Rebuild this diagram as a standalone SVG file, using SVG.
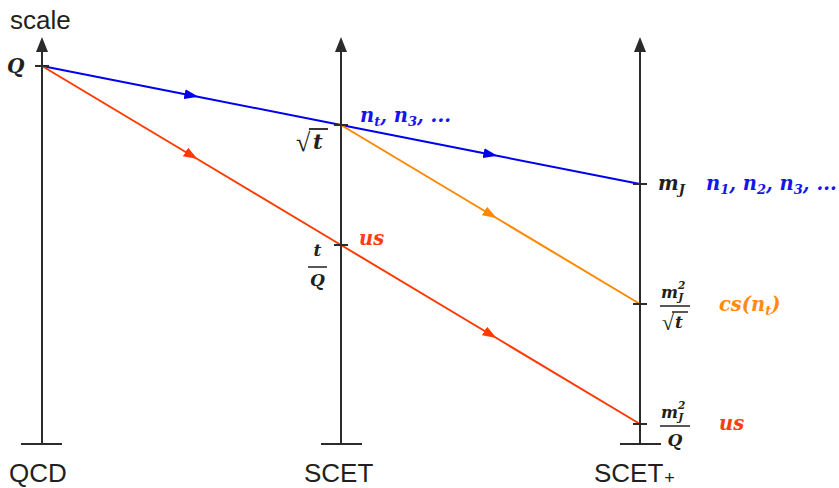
<svg xmlns="http://www.w3.org/2000/svg" width="839" height="488" viewBox="0 0 839 488">
<style>
.ax{stroke:#2b2b2b;stroke-width:2;fill:none}
.lbl{font-family:"Liberation Sans",Arial,sans-serif;font-size:26px;fill:#231f20}
.m{font-family:"DejaVu Serif","Liberation Serif",serif;font-style:italic;font-weight:bold;fill:#231f20}
.rad{font-family:"Liberation Serif","DejaVu Serif",serif;fill:#231f20}
.bl{fill:#1414ee}
.rd{fill:#ff3c12}
.or{fill:#ff8a14}
.sub{font-size:13px}
.bar{stroke:#231f20;stroke-width:1.5}
</style>
<defs>
<marker id="ab" viewBox="0 0 14 10" refX="7" refY="5" markerWidth="14" markerHeight="10" markerUnits="userSpaceOnUse" orient="auto"><path d="M0,0 L14,5 L0,10 Z" fill="#0000ee"/></marker>
<marker id="ar" viewBox="0 0 14 10" refX="7" refY="5" markerWidth="14" markerHeight="10" markerUnits="userSpaceOnUse" orient="auto"><path d="M0,0 L14,5 L0,10 Z" fill="#ff3a00"/></marker>
<marker id="ao" viewBox="0 0 14 10" refX="7" refY="5" markerWidth="14" markerHeight="10" markerUnits="userSpaceOnUse" orient="auto"><path d="M0,0 L14,5 L0,10 Z" fill="#ff8800"/></marker>
</defs>

<g id="axis-qcd">
<line class="ax" x1="42" y1="444" x2="42" y2="48"/>
<path d="M42,37 L48,52 L36,52 Z" fill="#2b2b2b"/>
<line class="ax" x1="21" y1="444" x2="62" y2="444"/>
<text class="lbl" x="9" y="482">QCD</text>
<text class="lbl" x="10" y="29">scale</text>
</g>
<g id="axis-scet">
<line class="ax" x1="341" y1="444" x2="341" y2="48"/>
<path d="M341,37 L347,52 L335,52 Z" fill="#2b2b2b"/>
<line class="ax" x1="321" y1="444" x2="362" y2="444"/>
<text class="lbl" x="304" y="482">SCET</text>
</g>
<g id="axis-scetplus">
<line class="ax" x1="640" y1="444" x2="640" y2="48"/>
<path d="M640,37 L646,52 L634,52 Z" fill="#2b2b2b"/>
<line class="ax" x1="620" y1="444" x2="661" y2="444"/>
<text class="lbl" x="594" y="482">SCET<tspan font-size="18" dx="1" dy="2">+</tspan></text>
</g>

<g id="connectors" fill="none" stroke-width="2">
<path d="M42,66 L191.5,95.5 L341,125" stroke="#0000ee" marker-mid="url(#ab)"/>
<path d="M341,125 L490.5,154.5 L640,184" stroke="#0000ee" marker-mid="url(#ab)"/>
<path d="M42,66 L191.5,155.5 L341,245" stroke="#ff3a00" marker-mid="url(#ar)"/>
<path d="M341,245 L490.5,334.5 L640,424" stroke="#ff3a00" marker-mid="url(#ar)"/>
<path d="M341,125 L490.5,214.5 L640,304" stroke="#ff8800" marker-mid="url(#ao)"/>
</g>

<g id="ticks" class="ax">
<line x1="35" y1="66" x2="49" y2="66"/>
<line x1="334" y1="125" x2="348" y2="125"/>
<line x1="334" y1="245" x2="348" y2="245"/>
<line x1="633" y1="184" x2="647" y2="184"/>
<line x1="633" y1="304" x2="647" y2="304"/>
<line x1="633" y1="424" x2="647" y2="424"/>
</g>

<g id="node-Q">
<text class="m" x="7" y="73" font-size="20">Q</text>
</g>
<g id="node-sqrt-t">
<text class="rad" x="296" y="151" font-size="26">√</text>
<line x1="309" y1="129" x2="328" y2="129" stroke="#231f20" stroke-width="1.8"/>
<text class="m" x="313" y="149" font-size="21">t</text>
<text class="m bl" x="360" y="122" font-size="19.5">n<tspan class="sub" dy="4">t</tspan><tspan dy="-4">, n</tspan><tspan class="sub" dy="4">3</tspan><tspan dy="-4">, ...</tspan></text>
</g>
<g id="node-t-Q">
<text class="m" x="317.5" y="256" font-size="17" text-anchor="middle">t</text>
<line class="bar" x1="308" y1="267" x2="327" y2="267"/>
<text class="m" x="317.5" y="286" font-size="17" text-anchor="middle">Q</text>
<text class="m rd" x="359" y="245" font-size="19.5">us</text>
</g>
<g id="node-mJ">
<text class="m" x="658" y="190" font-size="19.5">m<tspan class="sub" dy="4">J</tspan></text>
<text class="m bl" x="706" y="190" font-size="19.5">n<tspan class="sub" dy="4">1</tspan><tspan dy="-4">, n</tspan><tspan class="sub" dy="4">2</tspan><tspan dy="-4">, n</tspan><tspan class="sub" dy="4">3</tspan><tspan dy="-4">, ...</tspan></text>
</g>
<g id="node-mJ2-sqrt-t">
<text class="m" x="661" y="298" font-size="16">m<tspan font-size="10.5" dy="-9">2</tspan><tspan font-size="10.5" dx="-7" dy="11.5">J</tspan></text>
<line class="bar" x1="660" y1="306" x2="690" y2="306"/>
<text class="rad" x="662" y="330" font-size="22">√</text>
<line x1="672" y1="312" x2="688" y2="312" stroke="#231f20" stroke-width="1.5"/>
<text class="m" x="675" y="328" font-size="17">t</text>
<text class="m or" x="719" y="311" font-size="19.5">cs(n<tspan class="sub" dy="4">t</tspan><tspan dy="-4">)</tspan></text>
</g>
<g id="node-mJ2-Q">
<text class="m" x="661" y="418" font-size="16">m<tspan font-size="10.5" dy="-9">2</tspan><tspan font-size="10.5" dx="-7" dy="11.5">J</tspan></text>
<line class="bar" x1="660" y1="426" x2="690" y2="426"/>
<text class="m" x="675" y="446" font-size="17" text-anchor="middle">Q</text>
<text class="m rd" x="719" y="430" font-size="19.5">us</text>
</g>
</svg>
